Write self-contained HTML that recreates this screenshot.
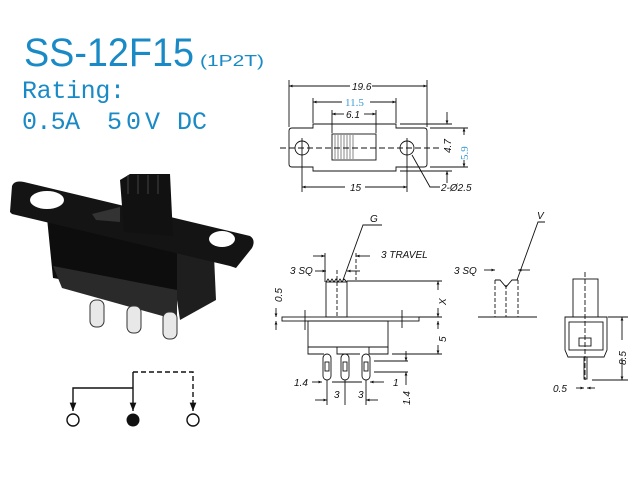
<!DOCTYPE html>
<html><head><style>
html,body{margin:0;padding:0;background:#fff;}
svg{display:block;}
.b{font-family:"Liberation Sans",sans-serif;fill:#1a8ac6;}
.m{font-family:"Liberation Mono",monospace;fill:#1a8ac6;}
.d{font-family:"Liberation Sans",sans-serif;font-style:italic;font-size:10px;fill:#111;}
</style></head><body>
<svg width="640" height="500" viewBox="0 0 640 500" xmlns="http://www.w3.org/2000/svg">
<defs>
<marker id="a" viewBox="0 0 10 10" refX="10" refY="5" markerWidth="6" markerHeight="6" orient="auto-start-reverse"><path d="M0,1 L10,5 L0,9 z" fill="#111"/></marker>
<marker id="s" viewBox="0 0 10 10" refX="10" refY="5" markerWidth="4" markerHeight="4" orient="auto-start-reverse"><path d="M0,1 L10,5 L0,9 z" fill="#111"/></marker>
</defs>
<text x="24" y="66" class="b" font-size="40" textLength="170" lengthAdjust="spacingAndGlyphs">SS-12F15</text>
<text x="200" y="66" class="b" font-size="16" textLength="64" lengthAdjust="spacingAndGlyphs">(1P2T)</text>
<text x="22" y="98" class="m" font-size="25" textLength="103">Rating:</text>
<text x="22" y="129" class="m" font-size="25" textLength="58">0.5A</text>
<text x="107" y="129" class="m" font-size="25" textLength="53">50V</text>
<text x="177" y="129" class="m" font-size="25" textLength="30">DC</text>

<!-- photo -->
<path d="M47,218 L177,246 L177,300 L53,278 Z" fill="#0d0d0d"/>
<path d="M177,246 L214,256 L216,300 L180,320 L177,300Z" fill="#1e1e1e"/>
<path d="M53,266 L177,290 L177,320 L62,288Z" fill="#2a2a2a"/>
<path d="M10,212 L12,186 Q14,180 24,182 L250,236 Q256,240 252,248 L236,268 L230,266 L12,214 Z" fill="#141414"/>
<ellipse cx="47" cy="200" rx="17" ry="9" fill="#fff"/>
<ellipse cx="222" cy="239" rx="13" ry="8" fill="#fff"/>
<path d="M92,214 L120,207 L120,222 L96,220Z" fill="#333"/>
<path d="M120,180 L130,174 L170,174 L173,236 L124,232Z" fill="#111"/>
<g stroke="#444" stroke-width="1"><line x1="128" y1="175" x2="128" y2="194"/><line x1="138" y1="175" x2="138" y2="194"/><line x1="148" y1="175" x2="148" y2="194"/><line x1="158" y1="175" x2="158" y2="194"/></g>
<g fill="#e8e8e8" stroke="#333" stroke-width="1">
<rect x="90" y="300" width="14" height="27" rx="6"/>
<rect x="127" y="306" width="14" height="27" rx="6"/>
<rect x="163" y="312" width="14" height="27" rx="6"/>
</g>

<!-- schematic -->
<g stroke="#111" stroke-width="1.4" fill="none">
<polyline points="133,388 73,388 73,411" marker-end="url(#a)"/>
<line x1="133" y1="372" x2="133" y2="411" marker-end="url(#a)"/>
<polyline points="133,372 193,372 193,411" stroke-dasharray="5,3" marker-end="url(#a)"/>
<circle cx="73" cy="420" r="6"/><circle cx="193" cy="420" r="6"/>
</g>
<circle cx="133" cy="420" r="6.5" fill="#111"/>

<!-- top view -->
<g stroke="#111" stroke-width="0.9" fill="none">
<path d="M292,128 L313,128 L313,124 L396,124 L396,128 L424,128 Q427,128 427,131 L427,164 Q427,167 424,167 L396,167 L396,171 L313,171 L313,167 L292,167 Q289,167 289,164 L289,131 Q289,128 292,128Z"/>
<circle cx="302" cy="148" r="7"/><circle cx="407" cy="148" r="7"/>
<rect x="332" y="134" width="44" height="26"/>
<line x1="280" y1="148" x2="440" y2="148" stroke-dasharray="6,3"/>
<line x1="302" y1="138" x2="302" y2="158"/><line x1="407" y1="138" x2="407" y2="158"/>
<line x1="289" y1="80" x2="289" y2="127"/><line x1="427" y1="80" x2="427" y2="127"/>
<line x1="289" y1="86" x2="350" y2="86" marker-start="url(#s)"/><line x1="372" y1="86" x2="427" y2="86" marker-end="url(#s)"/>
<line x1="313" y1="98" x2="313" y2="123"/><line x1="396" y1="98" x2="396" y2="123"/>
<line x1="313" y1="102" x2="342" y2="102" marker-start="url(#s)"/><line x1="370" y1="102" x2="396" y2="102" marker-end="url(#s)"/>
<line x1="332" y1="110" x2="332" y2="133"/><line x1="376" y1="110" x2="376" y2="133"/>
<line x1="332" y1="114" x2="344" y2="114" marker-start="url(#s)"/><line x1="364" y1="114" x2="376" y2="114" marker-end="url(#s)"/>
<line x1="302" y1="158" x2="302" y2="192"/><line x1="407" y1="158" x2="407" y2="192"/>
<line x1="302" y1="187" x2="345" y2="187" marker-start="url(#s)"/><line x1="365" y1="187" x2="407" y2="187" marker-end="url(#s)"/>
<line x1="400" y1="124" x2="452" y2="124"/><line x1="400" y1="171" x2="452" y2="171"/>
<line x1="430" y1="128" x2="468" y2="128"/><line x1="430" y1="167" x2="468" y2="167"/>
<line x1="447" y1="112" x2="447" y2="124" marker-end="url(#s)"/><line x1="447" y1="183" x2="447" y2="171" marker-end="url(#s)"/>
<line x1="464" y1="135" x2="464" y2="128" marker-end="url(#s)"/><line x1="464" y1="160" x2="464" y2="167" marker-end="url(#s)"/>
<polyline points="412,155 430,187 440,187" />
</g>
<g stroke="#111" stroke-width="0.5"><line x1="335" y1="135" x2="335" y2="159"/><line x1="338" y1="135" x2="338" y2="159"/><line x1="341" y1="135" x2="341" y2="159"/><line x1="344" y1="135" x2="344" y2="159"/><line x1="347" y1="135" x2="347" y2="159"/><line x1="350" y1="135" x2="350" y2="159"/><line x1="353" y1="135" x2="353" y2="159"/></g>
<text x="352" y="90" class="d">19.6</text>
<text x="345" y="106" font-family="Liberation Serif,serif" font-size="11" fill="#3a9ad6">11.5</text>
<text x="346" y="118" class="d">6.1</text>
<text x="350" y="191" class="d">15</text>
<text x="441" y="191" class="d">2-Ø2.5</text>
<text class="d" transform="translate(451,153) rotate(-90)">4.7</text>
<text transform="translate(468,160) rotate(-90)" font-family="Liberation Serif,serif" font-size="11" fill="#3a9ad6">5.9</text>

<!-- side view -->
<g stroke="#111" stroke-width="0.9" fill="none">
<rect x="282" y="317" width="137" height="4"/>
<path d="M308,321 L388,321 L388,347 L308,347Z"/>
<path d="M308,347 L308,354 L324,354 M337,347 L337,354 L360,354 M369,347 L369,354 L388,354 L388,347"/>
<rect x="326" y="282" width="21" height="35"/>
<polyline points="326,282 328,279 330,282 332,279 334,282 336,279 338,282 340,279 342,282 344,279 347,282"/>
<line x1="337" y1="270" x2="337" y2="317" stroke-dasharray="4,2"/>
<rect x="323" y="354" width="8" height="26" rx="4"/><rect x="341" y="354" width="8" height="26" rx="4"/><rect x="362" y="354" width="8" height="26" rx="4"/>
<rect x="325" y="362" width="4" height="9"/><rect x="343" y="362" width="4" height="9"/><rect x="364" y="362" width="4" height="9"/>
<line x1="347" y1="281" x2="442" y2="281"/><line x1="419" y1="317" x2="442" y2="317"/><line x1="392" y1="354" x2="442" y2="354"/>
<line x1="438" y1="290" x2="438" y2="281" marker-end="url(#s)"/><line x1="438" y1="308" x2="438" y2="317" marker-end="url(#s)"/>
<line x1="438" y1="329" x2="438" y2="321" marker-end="url(#s)"/><line x1="438" y1="345" x2="438" y2="354" marker-end="url(#s)"/>
<line x1="276" y1="308" x2="276" y2="317" marker-end="url(#s)"/><line x1="276" y1="330" x2="276" y2="321" marker-end="url(#s)"/>
<line x1="325" y1="253" x2="325" y2="282"/><line x1="356" y1="253" x2="356" y2="280" stroke-dasharray="4,2"/>
<line x1="313" y1="256" x2="325" y2="256" marker-end="url(#s)"/><line x1="370" y1="256" x2="356" y2="256" marker-end="url(#s)"/>
<line x1="315" y1="271" x2="326" y2="271" marker-end="url(#s)"/><line x1="360" y1="271" x2="347" y2="271" marker-end="url(#s)"/>
<polyline points="382,225 363,225 343,280"/>
<line x1="305" y1="330" x2="305" y2="310"/><line x1="402" y1="328" x2="402" y2="310"/>
<line x1="374" y1="372" x2="408" y2="372"/><line x1="374" y1="361" x2="408" y2="361"/>
<line x1="406" y1="351" x2="406" y2="361" marker-end="url(#s)"/><line x1="406" y1="385" x2="406" y2="372" marker-end="url(#s)"/>
<line x1="312" y1="382" x2="322" y2="382" marker-end="url(#s)"/><line x1="332" y1="382" x2="362" y2="382"/>
<line x1="384" y1="382" x2="370" y2="382" marker-end="url(#s)"/>
<line x1="327" y1="380" x2="327" y2="405"/><line x1="345" y1="380" x2="345" y2="405"/><line x1="366" y1="380" x2="366" y2="405"/>
<line x1="315" y1="400" x2="327" y2="400" marker-end="url(#s)"/><line x1="378" y1="400" x2="366" y2="400" marker-end="url(#s)"/>
</g>
<text x="381" y="258" class="d">3 TRAVEL</text>
<text x="370" y="222" class="d">G</text>
<text x="290" y="274" class="d">3 SQ</text>
<text class="d" transform="translate(282,302) rotate(-90)">0.5</text>
<text class="d" transform="translate(446,305) rotate(-90)">X</text>
<text class="d" transform="translate(446,342) rotate(-90)">5</text>
<text x="294" y="386" class="d">1.4</text>
<text x="393" y="386" class="d">1</text>
<text x="334" y="398" class="d">3</text>
<text x="358" y="398" class="d">3</text>
<text class="d" transform="translate(410,405) rotate(-90)">1.4</text>

<!-- V view -->
<g stroke="#111" stroke-width="0.9" fill="none">
<line x1="478" y1="317" x2="537" y2="317"/>
<line x1="495" y1="280" x2="495" y2="317" stroke-dasharray="4,2"/><line x1="518" y1="280" x2="518" y2="317" stroke-dasharray="4,2"/>
<line x1="506" y1="285" x2="506" y2="317" stroke-dasharray="4,2"/>
<polyline points="495,280 500,280 506,287 512,280 518,280"/>
<line x1="484" y1="270" x2="495" y2="270" marker-end="url(#s)"/><line x1="530" y1="270" x2="518" y2="270" marker-end="url(#s)"/>
<polyline points="545,222 538,222 517,280"/>
</g>
<text x="537" y="219" class="d">V</text>
<text x="454" y="274" class="d">3 SQ</text>

<!-- end view -->
<g stroke="#111" stroke-width="0.9" fill="none">
<rect x="573" y="279" width="25" height="38"/>
<line x1="585" y1="272" x2="585" y2="380" stroke-dasharray="5,2"/>
<path d="M565,317 L607,317 L607,350 L604,357 L568,357 L565,350Z"/>
<rect x="569" y="322" width="34" height="28"/>
<rect x="579" y="338" width="12" height="8"/>
<rect x="584" y="357" width="3" height="22"/>
<line x1="608" y1="317" x2="628" y2="317"/><line x1="592" y1="380" x2="628" y2="380"/>
<line x1="622" y1="340" x2="622" y2="317" marker-end="url(#s)"/><line x1="622" y1="358" x2="622" y2="380" marker-end="url(#s)"/>
<line x1="576" y1="388" x2="584" y2="388" marker-end="url(#s)"/><line x1="595" y1="388" x2="587" y2="388" marker-end="url(#s)"/>
</g>
<text class="d" transform="translate(626,365) rotate(-90)">8.5</text>
<text x="553" y="392" class="d">0.5</text>
</svg>
</body></html>
